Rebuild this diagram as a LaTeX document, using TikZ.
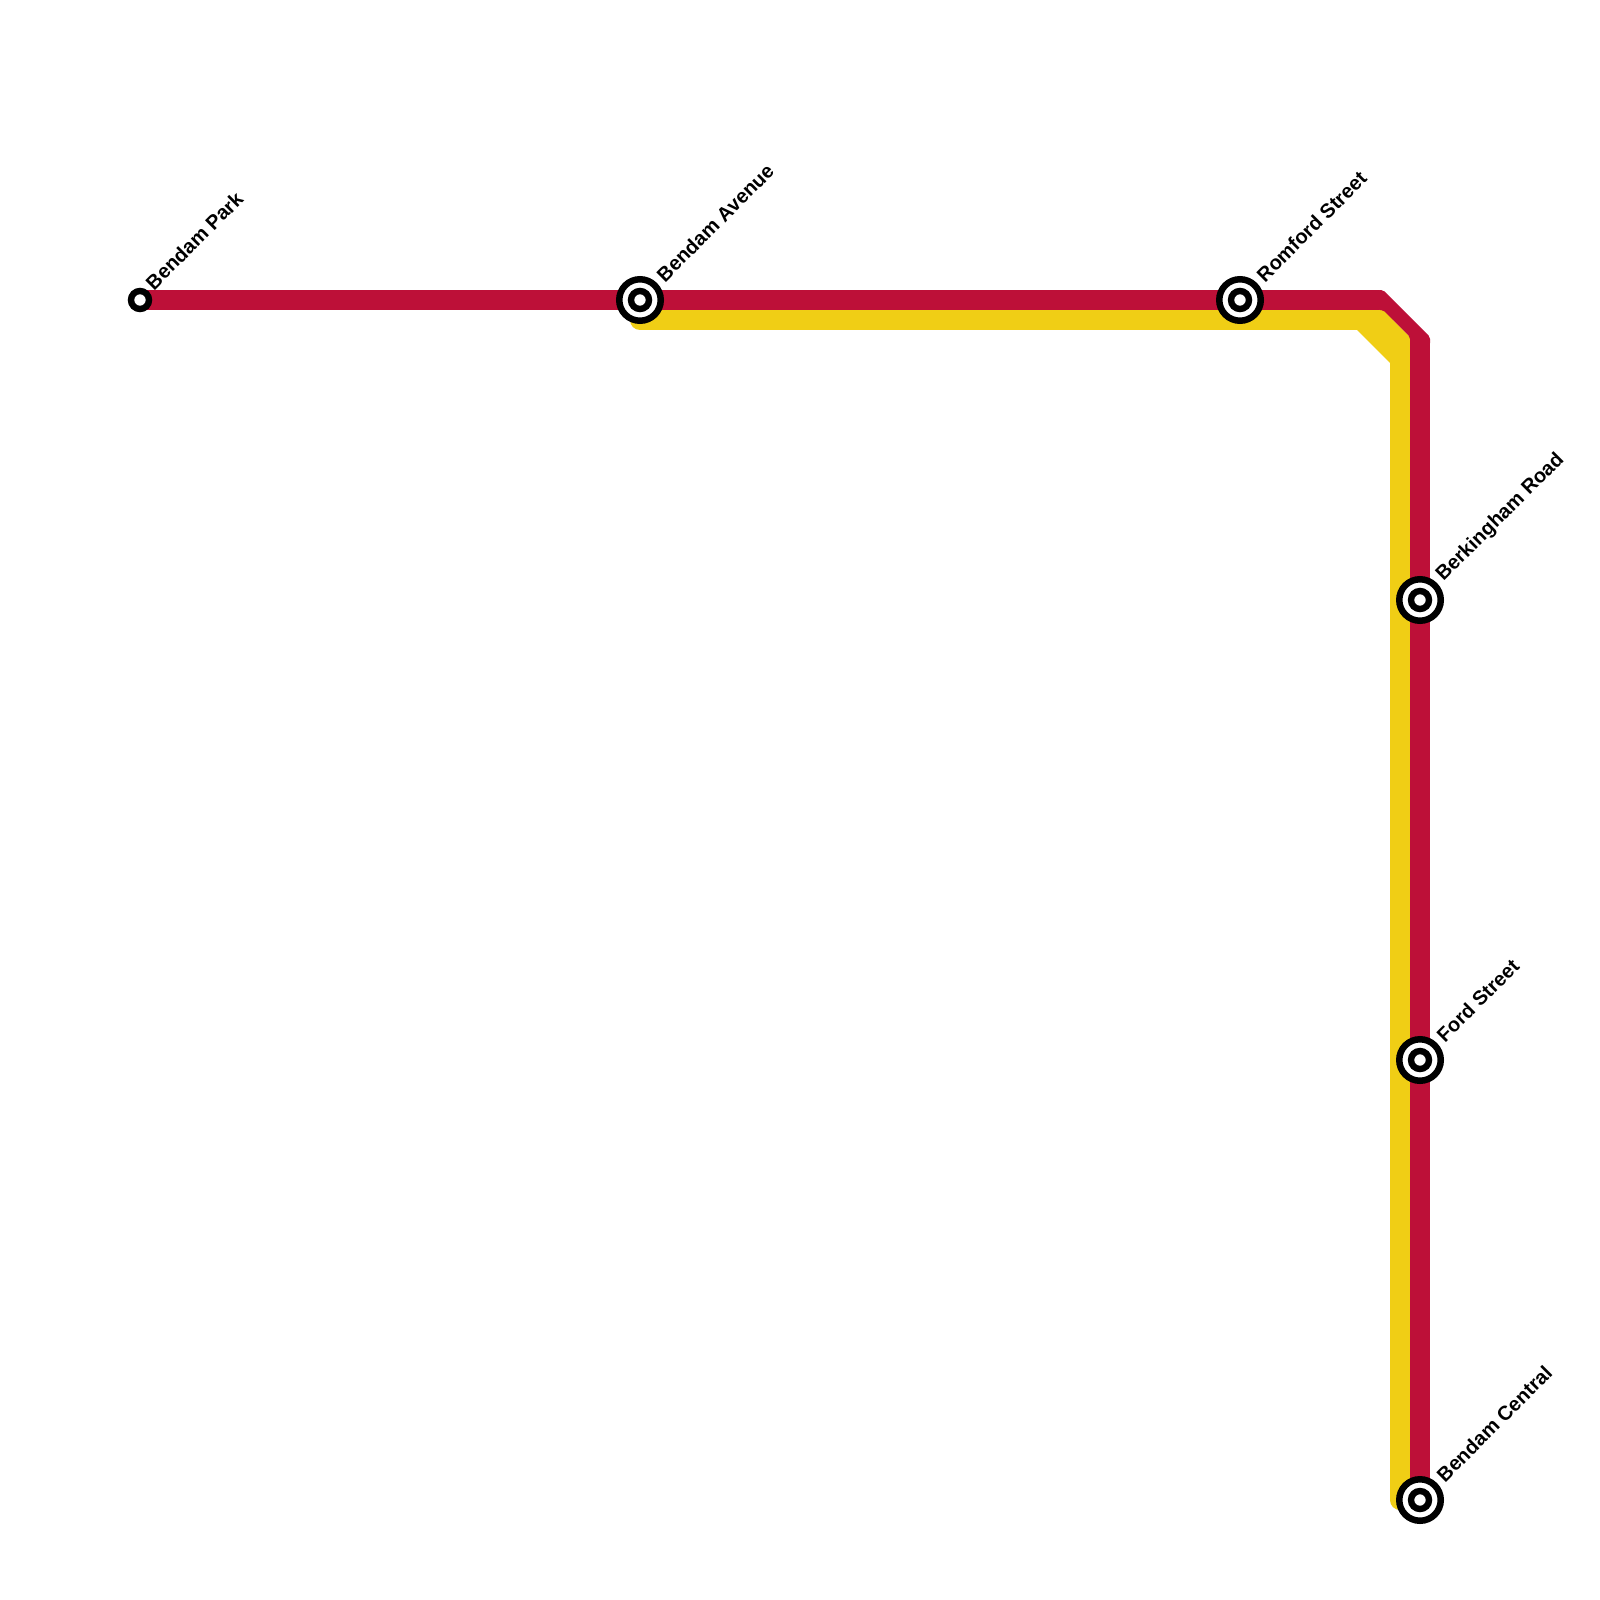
\documentclass[tikz,border=0pt]{standalone}
\usepackage{fontspec}
\setmainfont{Liberation Sans}
\definecolor{linered}{HTML}{BD1038}
\definecolor{lineyellow}{HTML}{F0CE15}
\tikzset{
  metro/.style={line width=20pt,line join=round,line cap=round},
  hubring/.style={circle,draw=black,fill=white,line width=6.5pt,minimum size=41.5pt,inner sep=0pt,outer sep=0pt},
  stopring/.style={circle,draw=black,fill=white,line width=6.4pt,minimum size=18pt,inner sep=0pt,outer sep=0pt},
  stoplabel/.style={anchor=west,rotate=45,inner sep=0pt,outer sep=0pt,font=\fontsize{20}{20}\selectfont\bfseries,text=black}
}
\begin{document}
\begin{tikzpicture}[x=1pt,y=-1pt]
\useasboundingbox (0,0) rectangle (1600,1600);
\fill[white] (0,0) rectangle (1600,1600);
\coordinate (park) at (140,300);
\coordinate (avenue) at (640,300);
\coordinate (romford) at (1240,300);
\coordinate (berk) at (1420,600);
\coordinate (ford) at (1420,1060);
\coordinate (central) at (1420,1500);
\coordinate (redA) at (1378,300);
\coordinate (redB) at (1420,342);
\coordinate (yelStart) at (640,320);
\coordinate (yelA) at (1383,320);
\coordinate (yelB) at (1400,345);
\coordinate (yelEnd) at (1400,1500);
% yellow line: two runs and the wide diagonal between them
\draw[metro,lineyellow] (yelStart) -- (yelA);
\draw[metro,lineyellow] (yelB) -- (yelEnd);
\fill[lineyellow] (1383,310) -- (1410,337) -- (1410,363) -- (1390,363) -- (1357,330) -- cycle;
% red line: two runs and the diagonal between them
\draw[metro,linered] (park) -- (avenue) -- (romford) -- (redA);
\draw[metro,linered] (redB) -- (berk) -- (ford) -- (central);
\fill[linered,rounded corners=2pt] (1378,290) -- (1383,290) -- (1430,337) -- (1430,345) -- (1410,345) -- (1410,337) -- (1383,310) -- (1378,310) -- cycle;
\node[stopring] (parkring) at (park) {};
\foreach \s in {avenue,romford,berk,ford,central}{
  \node[hubring] (\s hub) at (\s) {};
  \node[stopring] (\s core) at (\s) {};
}
\node[stoplabel] (parklabel) at ([shift={(9,-14)}]park) {Bendam Park};
\node[stoplabel] (avenuelabel) at ([shift={(20,-22)}]avenue) {Bendam Avenue};
\node[stoplabel] (romfordlabel) at ([shift={(20,-22)}]romford) {Romford Street};
\node[stoplabel] (berklabel) at ([shift={(20,-22)}]berk) {Berkingham Road};
\node[stoplabel] (fordlabel) at ([shift={(20,-22)}]ford) {Ford Street};
\node[stoplabel] (centrallabel) at ([shift={(20,-22)}]central) {Bendam Central};
\end{tikzpicture}
\end{document}
